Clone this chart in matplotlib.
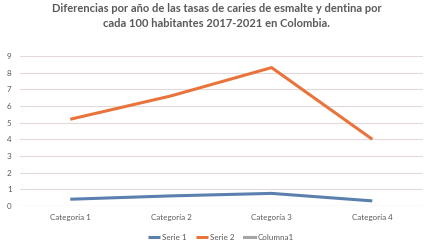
import matplotlib
matplotlib.use("Agg")
import matplotlib.pyplot as plt

categories = ["Categoría 1", "Categoría 2", "Categoría 3", "Categoría 4"]
serie1 = [0.4, 0.6, 0.75, 0.3]
serie2 = [5.2, 6.6, 8.3, 4.0]
columna1 = []
yticks = list(range(0, 10))

plt.rcParams['font.family'] = ['Lato', 'DejaVu Sans']
text_color = "#595959"

fig = plt.figure(figsize=(4.33, 2.52), dpi=100)
ax = fig.add_axes([0.046, 0.183, 0.93, 0.595])

x = list(range(len(categories)))
ax.plot(x, serie1, color="#5b7fae", lw=2.2, label="Serie 1", solid_capstyle="butt")
ax.plot(x, serie2, color="#e8743b", lw=2.2, label="Serie 2", solid_capstyle="butt")
ax.plot([], [], color="#a5a5a5", lw=2.2, label="Columna1")

ax.set_xlim(-0.5, 3.5)
ax.set_ylim(0, 9)
ax.set_yticks(yticks)
ax.set_xticks(x)
ax.set_xticklabels(categories)
ax.grid(axis="y", color="#e6d9d9", lw=0.8)
ax.set_axisbelow(True)
for s in ax.spines.values():
    s.set_visible(False)
ax.axhline(0, color="#e0c8c0", lw=0.8, zorder=0)
ax.tick_params(length=0, labelsize=5.8, colors=text_color, pad=6)

ax.legend(loc="upper center", bbox_to_anchor=(0.5, -0.14), ncol=3, frameon=False,
          fontsize=5.8, labelcolor=text_color, handlelength=1.4, handletextpad=0.3,
          columnspacing=1.2)

fig.suptitle("Diferencias por año de las tasas de caries de esmalte y dentina por\n"
             "cada 100 habitantes 2017-2021 en Colombia.",
             y=0.99, fontsize=8, fontweight="bold", color=text_color, linespacing=1.45)

fig.savefig("out.png", dpi=100)
